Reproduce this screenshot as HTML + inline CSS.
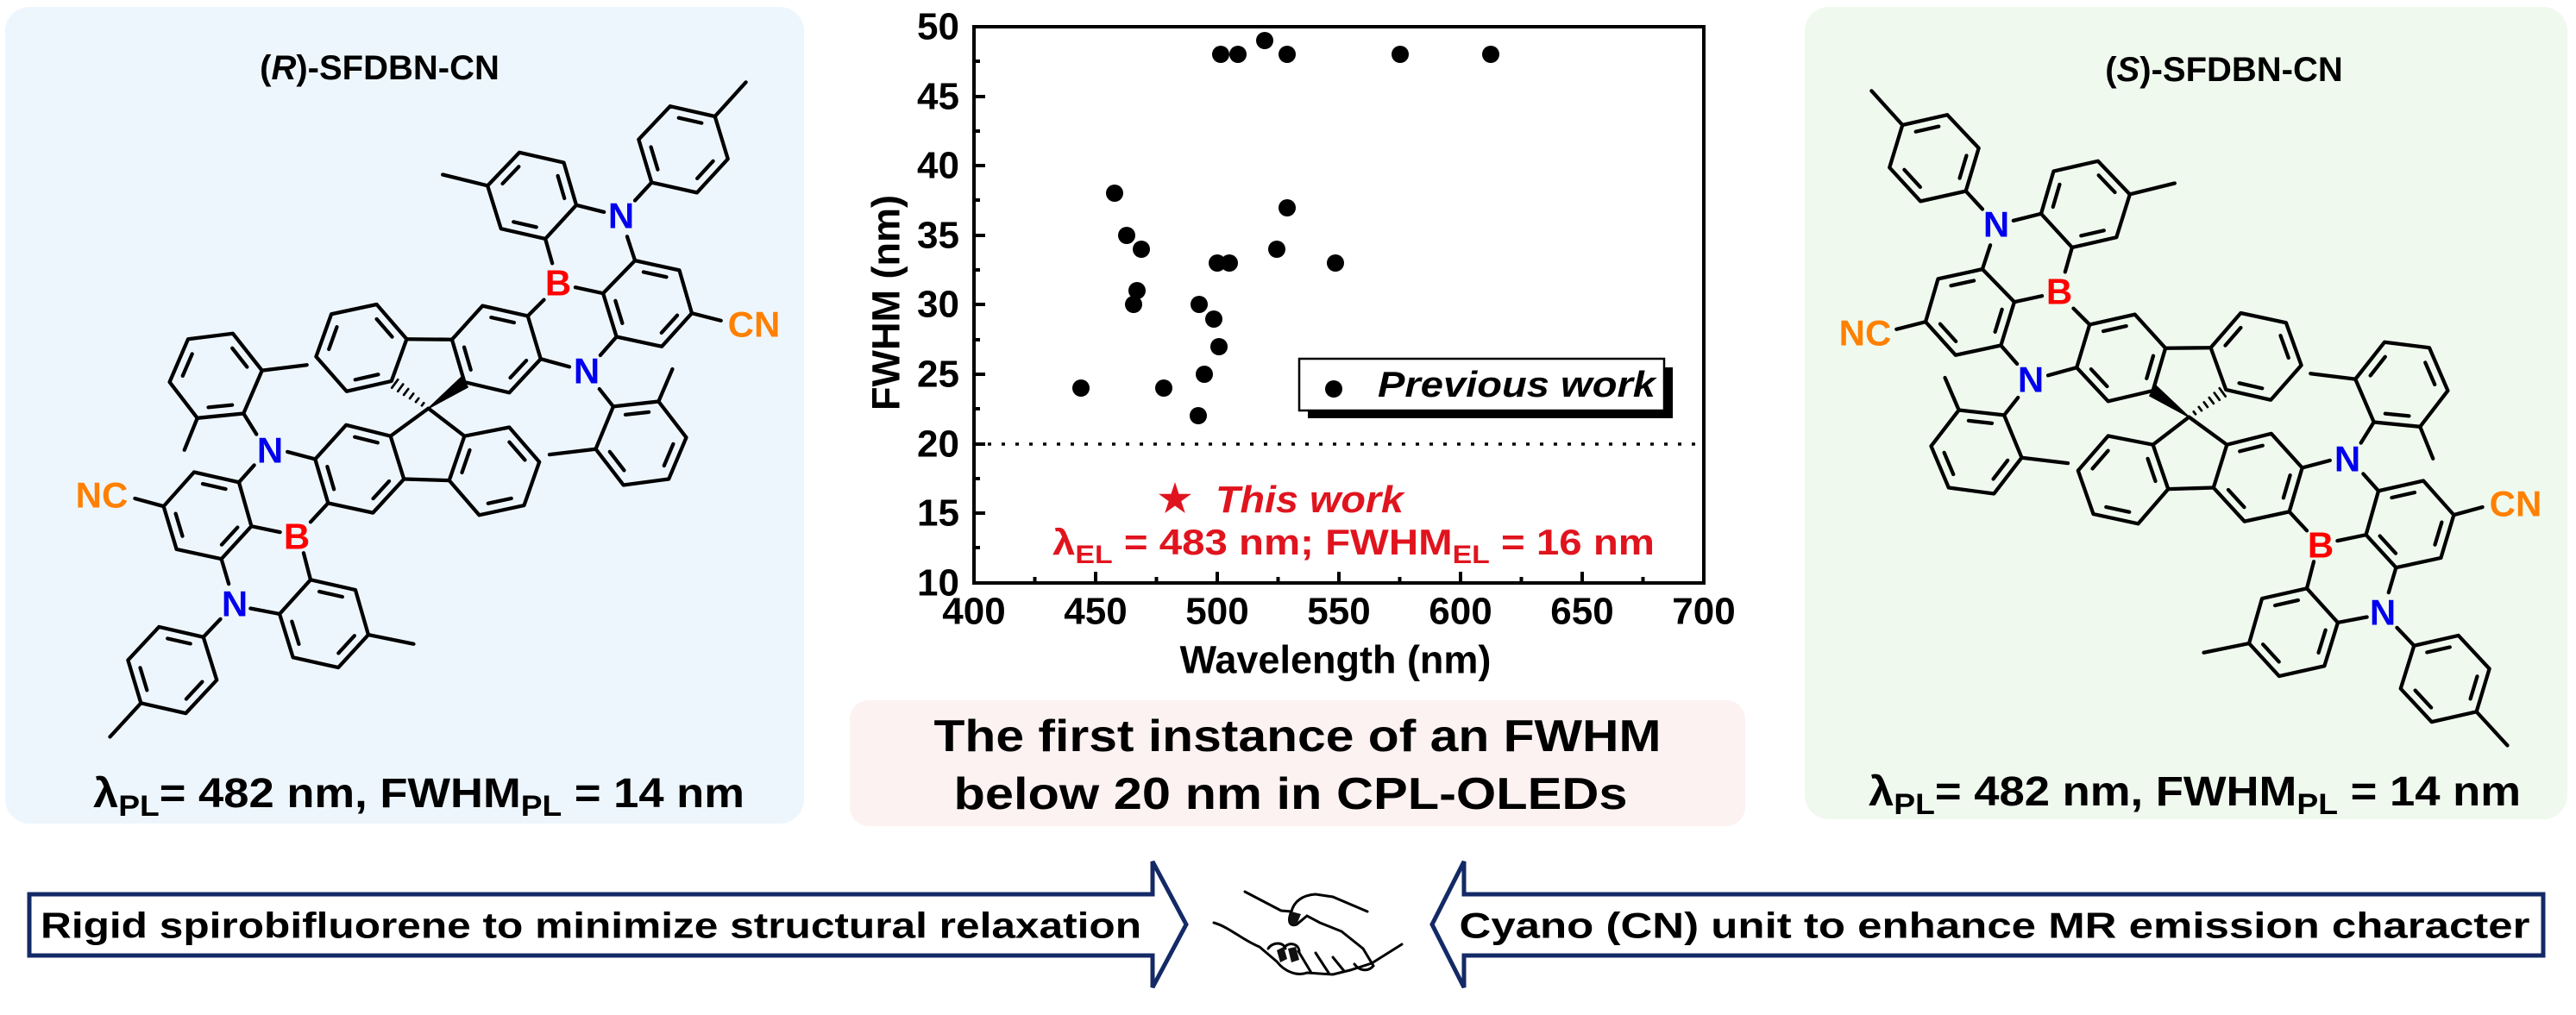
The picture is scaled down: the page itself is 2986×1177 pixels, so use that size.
<!DOCTYPE html>
<html><head><meta charset="utf-8"><style>
html,body{margin:0;padding:0;background:#fff;}
svg{display:block;font-family:"Liberation Sans",Arial,sans-serif;}
</style></head><body>
<svg width="2986" height="1177" viewBox="0 0 2986 1177" xmlns="http://www.w3.org/2000/svg">
<defs>
<g id="mol" fill="none" stroke="#000" stroke-width="8" stroke-linejoin="round" stroke-linecap="round">
 <g>
  <polygon points="1012,218 1108,240 1135,332 1068,405 972,383 943,290"/>
  <polygon points="1338,118 1435,140 1463,232 1396,305 1298,283 1270,190"/>
  <polygon points="1262,452 1358,473 1385,566 1320,638 1222,617 1193,523"/>
  <polygon points="1215,768 1313,757 1373,835 1335,925 1237,938 1177,860"/>
  <polygon points="932,550 1030,572 1058,665 990,738 893,715 866,623"/>
  <polygon points="703,547 768,622 735,713 638,735 572,660 605,568"/>
  <polygon points="637,808 733,832 762,925 695,998 598,977 570,882"/>
  <polygon points="893,832 990,813 1055,888 1022,982 925,1003 860,928"/>
  <polygon points="392,610 455,690 415,783 315,793 255,715 295,622"/>
  <polygon points="308,910 405,932 432,1027 367,1098 270,1077 242,984"/>
  <polygon points="560,1143 657,1165 685,1262 620,1333 522,1311 493,1217"/>
  <polygon points="232,1245 328,1267 357,1360 290,1432 193,1410 165,1317"/>
 </g>
 <g stroke-width="10.5">
  <polygon pathLength="6" stroke-dasharray="0.68 1.32" stroke-dashoffset="1.84" transform="translate(1039.7 311.3) scale(.76) translate(-1039.7 -311.3)" points="1108,240 1135,332 1068,405 972,383 943,290 1012,218"/>
  <polygon pathLength="6" stroke-dasharray="0.68 1.32" stroke-dashoffset="1.84" transform="translate(1366.7 211.3) scale(.76) translate(-1366.7 -211.3)" points="1338,118 1435,140 1463,232 1396,305 1298,283 1270,190"/>
  <polygon pathLength="6" stroke-dasharray="0.68 1.32" stroke-dashoffset="1.84" transform="translate(1290 544.8) scale(.76) translate(-1290 -544.8)" points="1262,452 1358,473 1385,566 1320,638 1222,617 1193,523"/>
  <polygon pathLength="6" stroke-dasharray="0.68 1.32" stroke-dashoffset="1.84" transform="translate(1275 847.2) scale(.76) translate(-1275 -847.2)" points="1215,768 1313,757 1373,835 1335,925 1237,938 1177,860"/>
  <polygon pathLength="6" stroke-dasharray="0.68 1.32" stroke-dashoffset="1.84" transform="translate(961.5 643.8) scale(.76) translate(-961.5 -643.8)" points="932,550 1030,572 1058,665 990,738 893,715 866,623"/>
  <polygon pathLength="6" stroke-dasharray="0.68 1.32" stroke-dashoffset="1.84" transform="translate(670.2 640.8) scale(.76) translate(-670.2 -640.8)" points="703,547 768,622 735,713 638,735 572,660 605,568"/>
  <polygon pathLength="6" stroke-dasharray="0.68 1.32" stroke-dashoffset="1.84" transform="translate(665.8 903.7) scale(.76) translate(-665.8 -903.7)" points="637,808 733,832 762,925 695,998 598,977 570,882"/>
  <polygon pathLength="6" stroke-dasharray="0.68 1.32" stroke-dashoffset="1.84" transform="translate(957.5 907.7) scale(.76) translate(-957.5 -907.7)" points="990,813 1055,888 1022,982 925,1003 860,928 893,832"/>
  <polygon pathLength="6" stroke-dasharray="0.68 1.32" stroke-dashoffset="1.84" transform="translate(354.5 702.2) scale(.76) translate(-354.5 -702.2)" points="392,610 455,690 415,783 315,793 255,715 295,622"/>
  <polygon pathLength="6" stroke-dasharray="0.68 1.32" stroke-dashoffset="1.84" transform="translate(337.3 1004.7) scale(.76) translate(-337.3 -1004.7)" points="308,910 405,932 432,1027 367,1098 270,1077 242,984"/>
  <polygon pathLength="6" stroke-dasharray="0.68 1.32" stroke-dashoffset="1.84" transform="translate(589.5 1238.5) scale(.76) translate(-589.5 -1238.5)" points="560,1143 657,1165 685,1262 620,1333 522,1311 493,1217"/>
  <polygon pathLength="6" stroke-dasharray="0.68 1.32" stroke-dashoffset="1.84" transform="translate(260.8 1338.5) scale(.76) translate(-260.8 -1338.5)" points="232,1245 328,1267 357,1360 290,1432 193,1410 165,1317"/>
 </g>
 <path d="M943,290L846,266 M1435,140L1502,66 M1135,332L1195,347 M1298,283L1262,322 M1245,400L1262,452 M1068,405L1083,458 M1133,510L1193,523 M1030,572L1065,537 M1385,566L1448,582 M1222,617L1187,657 M1058,665L1120,682 M1185,730L1215,768 M1313,757L1343,687 M1177,860L1077,872 M768,622L866,623 M733,832L815,772 L893,832 M762,925L860,928 M570,882L510,866 M443,828L415,783 M438,895L405,932 M455,690L552,678 M315,793L287,862 M242,984L180,967 M432,1027L494,1040 M598,977L560,1018 M545,1085L560,1143 M367,1098L383,1152 M430,1205L493,1217 M365,1228L328,1267 M685,1262L783,1282 M193,1410L126,1483"/>
 <polygon points="815,772 887,704 900,726" fill="#000" stroke-width="3"/>
 <path stroke-width="5" d="M800.8,765.9L805,760.3 M787.8,758.2L793.8,750.2 M774.8,750.5L782.6,740.1 M761.8,742.8L771.4,730 M749,735.2L760.2,719.8 M736,727.5L749,709.7"/>
</g>
</defs>

<rect x="6" y="8" width="926" height="947" rx="28" fill="#eef6fd"/>
<rect x="2092" y="8" width="884" height="942" rx="28" fill="#eff9ee"/>
<rect x="985" y="812" width="1038" height="146" rx="22" fill="#fdf2f2"/>

<use href="#mol" transform="translate(60 60) scale(.5357)"/>
<use href="#mol" transform="translate(2974 70) scale(-.5357 .5357)"/>

<g font-weight="bold" font-size="42" text-anchor="middle" dominant-baseline="central">
 <g fill="#0000ee">
  <text x="720" y="250">N</text><text x="680" y="430">N</text><text x="313" y="522">N</text><text x="272" y="700">N</text>
  <text x="2314" y="260">N</text><text x="2354" y="440">N</text><text x="2721" y="532">N</text><text x="2762" y="710">N</text>
 </g>
 <g fill="#ff0000">
  <text x="647" y="328">B</text><text x="344" y="622">B</text>
  <text x="2387" y="338">B</text><text x="2690" y="632">B</text>
 </g>
 <g fill="#ff8000">
  <text x="874" y="376">CN</text><text x="118" y="574">NC</text>
  <text x="2162" y="386">NC</text><text x="2916" y="584">CN</text>
 </g>
</g>

<g font-weight="bold" font-size="40" text-anchor="middle">
 <text x="440" y="92">(<tspan font-style="italic">R</tspan>)-SFDBN-CN</text>
 <text x="2578" y="94">(<tspan font-style="italic">S</tspan>)-SFDBN-CN</text>
</g>
<g font-weight="bold" font-size="48">
 <text x="108" y="936" textLength="755" lengthAdjust="spacingAndGlyphs">λ<tspan font-size="34" dy="10">PL</tspan><tspan dy="-10">= 482 nm, FWHM</tspan><tspan font-size="34" dy="10">PL</tspan><tspan dy="-10"> = 14 nm</tspan></text>
 <text x="2166" y="934" textLength="756" lengthAdjust="spacingAndGlyphs">λ<tspan font-size="34" dy="10">PL</tspan><tspan dy="-10">= 482 nm, FWHM</tspan><tspan font-size="34" dy="10">PL</tspan><tspan dy="-10"> = 14 nm</tspan></text>
</g>

<g font-weight="bold" font-size="44" fill="#000">
 <g text-anchor="end" dominant-baseline="central">
  <text x="1112" y="676">10</text><text x="1112" y="595">15</text><text x="1112" y="515">20</text><text x="1112" y="434">25</text><text x="1112" y="353">30</text><text x="1112" y="273">35</text><text x="1112" y="192">40</text><text x="1112" y="112">45</text><text x="1112" y="31">50</text>
 </g>
 <g text-anchor="middle" dominant-baseline="central">
  <text x="1129" y="709">400</text><text x="1270" y="709">450</text><text x="1411" y="709">500</text><text x="1552" y="709">550</text><text x="1693" y="709">600</text><text x="1834" y="709">650</text><text x="1975" y="709">700</text>
  <text x="1548" y="765" font-size="45">Wavelength (nm)</text>
  <text transform="translate(1027 351) rotate(-90)" font-size="45">FWHM (nm)</text>
 </g>
</g>
<g stroke="#000" stroke-width="4" fill="none">
 <path d="M1129,676V31H1975V676Z"/>
 <path d="M1129,595h13M1129,515h13M1129,434h13M1129,353h13M1129,273h13M1129,192h13M1129,112h13 M1129,635h7M1129,555h7M1129,474h7M1129,394h7M1129,313h7M1129,232h7M1129,152h7M1129,71h7
 M1270,676v-13M1411,676v-13M1552,676v-13M1693,676v-13M1834,676v-13 M1199.5,676v-7M1340.5,676v-7M1481.5,676v-7M1622.5,676v-7M1763.5,676v-7M1904.5,676v-7"/>
 <path d="M1129,515H1975" stroke-width="3.5" stroke-dasharray="4 12"/>
</g>
<g fill="#000">
 <circle cx="1415" cy="63" r="10"/><circle cx="1435" cy="63" r="10"/><circle cx="1466" cy="47" r="10"/><circle cx="1492" cy="63" r="10"/><circle cx="1623" cy="63" r="10"/><circle cx="1728" cy="63" r="10"/>
 <circle cx="1292" cy="224" r="10"/><circle cx="1306" cy="273" r="10"/><circle cx="1323" cy="289" r="10"/><circle cx="1318" cy="337" r="10"/><circle cx="1314" cy="353" r="10"/>
 <circle cx="1492" cy="241" r="10"/><circle cx="1480" cy="289" r="10"/><circle cx="1411" cy="305" r="10"/><circle cx="1425" cy="305" r="10"/><circle cx="1548" cy="305" r="10"/>
 <circle cx="1390" cy="353" r="10"/><circle cx="1407" cy="370" r="10"/><circle cx="1413" cy="402" r="10"/><circle cx="1396" cy="434" r="10"/>
 <circle cx="1253" cy="450" r="10"/><circle cx="1349" cy="450" r="10"/><circle cx="1389" cy="482" r="10"/>
</g>
<rect x="1516" y="426" width="423" height="59" fill="#000"/>
<rect x="1506" y="416" width="423" height="60" fill="#fff" stroke="#000" stroke-width="2.5"/>
<circle cx="1546" cy="451" r="10" fill="#000"/>
<text x="1597" y="460" font-weight="bold" font-style="italic" font-size="42" textLength="322" lengthAdjust="spacingAndGlyphs">Previous work</text>
<g fill="#e0141e" font-weight="bold">
 <text x="1362" y="593" font-size="44" text-anchor="middle">★</text>
 <text x="1409" y="594" font-size="44" font-style="italic" textLength="218" lengthAdjust="spacingAndGlyphs">This work</text>
 <text x="1220" y="643" font-size="42" textLength="698" lengthAdjust="spacingAndGlyphs">λ<tspan font-size="30" dy="10">EL</tspan><tspan dy="-10"> = 483 nm; FWHM</tspan><tspan font-size="30" dy="10">EL</tspan><tspan dy="-10"> = 16 nm</tspan></text>
</g>

<g font-weight="bold" font-size="52" text-anchor="middle" dominant-baseline="central">
 <text x="1504" y="854" textLength="843" lengthAdjust="spacingAndGlyphs">The first instance of an FWHM</text>
 <text x="1496" y="921" textLength="781" lengthAdjust="spacingAndGlyphs">below 20 nm in CPL-OLEDs</text>
</g>

<g fill="#fff" stroke="#142a66" stroke-width="5" stroke-linejoin="miter">
 <polygon points="34,1037 1336,1037 1336,999 1375,1072 1336,1145 1336,1108 34,1108"/>
 <polygon points="2948,1037 1697,1037 1697,999 1660,1072 1697,1145 1697,1108 2948,1108"/>
</g>
<g font-weight="bold" font-size="42" text-anchor="middle" dominant-baseline="central">
 <text x="685" y="1073" textLength="1276" lengthAdjust="spacingAndGlyphs">Rigid spirobifluorene to minimize structural relaxation</text>
 <text x="2312" y="1073" textLength="1241" lengthAdjust="spacingAndGlyphs">Cyano (CN) unit to enhance MR emission character</text>
</g>
<g fill="none" stroke="#000" stroke-width="3" stroke-linecap="round">
 <path d="M1443,1034 L1485,1056 L1497,1057 C1500,1045 1510,1038 1525,1037 L1545,1040 L1585,1057"/>
 <path d="M1497,1057 C1492,1068 1495,1075 1503,1072 L1515,1062 L1530,1070 L1555,1080 L1580,1100 L1592,1120 C1585,1128 1575,1125 1570,1118"/>
 <path d="M1407,1070 C1425,1075 1440,1090 1460,1098 L1480,1115 C1490,1128 1505,1132 1515,1128 L1545,1130 L1565,1125 L1590,1117"/>
 <path d="M1590,1117 L1625,1095"/>
 <path d="M1470,1100 C1475,1092 1488,1092 1490,1100 M1488,1100 C1492,1092 1505,1093 1506,1103 M1505,1103 L1520,1128 M1525,1105 L1540,1128 M1545,1110 L1558,1126"/>
</g>
<path d="M1497,1057 C1492,1068 1495,1075 1503,1072 L1508,1060 Z M1480,1102 L1488,1098 L1492,1112 L1484,1116Z M1493,1100 L1502,1098 L1506,1113 L1497,1116Z" fill="#111"/>
</svg>
</body></html>
